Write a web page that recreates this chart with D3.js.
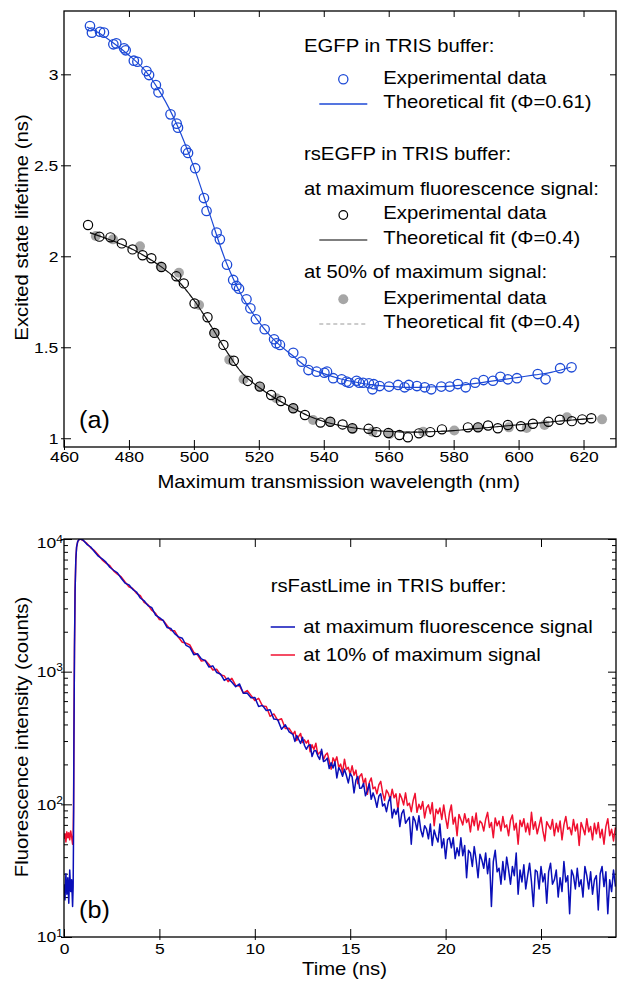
<!DOCTYPE html>
<html><head><meta charset="utf-8">
<script src="https://cdn.jsdelivr.net/npm/d3@7"></script>
<style>
body{margin:0;background:#fff}
svg{display:block}
text{font-family:"Liberation Sans",Arial,Helvetica,sans-serif;fill:#000}
</style></head>
<body><svg id="c" width="618" height="982"></svg>
<script>
// ---------- Panel (a) data ----------
const wavelengthTicks = [460,480,500,520,540,560,580,600,620];
const lifetimeTicks = [1,1.5,2,2.5,3];

const egfpWavelength = [468.0,468.6,471.1,472.3,475.2,476.1,478.5,479.0,481.5,482.6,485.4,486.2,488.3,489.1,492.8,494.7,495.1,497.5,498.2,500.4,503.1,503.9,507.0,508.0,510.2,512.1,513.1,513.9,516.2,517.4,519.1,521.8,524.7,525.4,526.5,530.6,533.2,535.3,537.8,540.2,541.0,542.9,545.5,547.0,547.8,550.1,550.9,552.1,553.9,555.0,555.4,557.2,560.1,562.9,564.9,566.2,568.7,571.1,573.1,576.2,578.8,581.3,583.7,586.6,589.2,592.1,594.4,596.7,599.5,605.9,608.3,612.8,616.3];
const egfpLifetime = [3.265,3.229,3.234,3.229,3.165,3.170,3.143,3.132,3.075,3.069,3.018,2.996,2.941,2.901,2.780,2.729,2.707,2.586,2.568,2.484,2.320,2.249,2.130,2.093,1.954,1.870,1.837,1.822,1.764,1.714,1.654,1.599,1.544,1.522,1.513,1.470,1.421,1.375,1.366,1.360,1.366,1.330,1.324,1.311,1.305,1.316,1.305,1.305,1.302,1.269,1.297,1.287,1.284,1.293,1.280,1.293,1.287,1.280,1.269,1.284,1.284,1.298,1.280,1.305,1.320,1.316,1.338,1.324,1.330,1.353,1.324,1.385,1.390];

const egfpFitWavelength = [467,470,475,480,485,490,495,500,505,510,515,520,525,530,535,540,545,550,555,560,565,570,575,580,585,590,595,600,605,610,616];
const egfpFitLifetime = [3.26,3.235,3.175,3.105,3.02,2.89,2.715,2.49,2.225,1.965,1.775,1.64,1.535,1.46,1.39,1.355,1.327,1.308,1.294,1.285,1.28,1.28,1.283,1.288,1.297,1.31,1.322,1.335,1.348,1.362,1.39];

const rsMaxWavelength = [467.4,470.9,474.3,477.8,481.1,484.2,486.9,490.0,494.6,496.9,500.2,504.2,506.3,509.1,512.3,516.6,520.3,523.8,526.8,530.6,534.2,539.0,542.0,545.8,548.8,553.8,556.2,559.9,563.3,565.9,569.3,572.8,576.4,584.4,587.5,590.6,593.6,596.7,600.7,604.4,609.2,612.7,616.4,619.6,622.4];
const rsMaxLifetime = [2.172,2.108,2.104,2.071,2.038,2.006,1.989,1.941,1.890,1.851,1.741,1.665,1.579,1.513,1.426,1.315,1.284,1.238,1.205,1.165,1.128,1.086,1.091,1.076,1.055,1.052,1.034,1.029,1.018,1.005,1.027,1.034,1.049,1.060,1.060,1.070,1.055,1.073,1.066,1.080,1.091,1.102,1.094,1.104,1.110];

const rsHalfWavelength = [469.8,475.1,483.4,489.8,495.4,501.6,506.4,510.9,515.3,520.2,525.4,530.6,536.7,541.8,548.9,555.0,560.3,570.6,580.2,587.5,597.0,602.5,608.0,614.9,625.7];
const rsHalfLifetime = [2.112,2.093,2.055,1.944,1.910,1.732,1.579,1.432,1.324,1.284,1.220,1.165,1.100,1.091,1.051,1.036,1.024,1.036,1.043,1.060,1.060,1.057,1.073,1.115,1.104];

const rsFitWavelength = [468,472,476,480,485,490,495,500,505,510,515,520,525,530,535,540,545,550,555,560,565,570,575,580,585,590,595,600,605,610,615,620,623];
const rsMaxFitLifetime = [2.13,2.105,2.078,2.048,2.0,1.942,1.868,1.76,1.625,1.48,1.355,1.28,1.22,1.17,1.125,1.092,1.07,1.055,1.044,1.037,1.034,1.034,1.037,1.042,1.05,1.058,1.066,1.074,1.082,1.09,1.098,1.105,1.11];
const rsHalfFitLifetime = [2.128,2.104,2.077,2.046,1.998,1.94,1.866,1.758,1.624,1.479,1.356,1.281,1.221,1.171,1.126,1.093,1.071,1.056,1.045,1.038,1.035,1.035,1.038,1.043,1.051,1.059,1.067,1.075,1.083,1.091,1.099,1.106,1.111];

// ---------- Panel (b) data ----------
const timeTicks = [0,5,10,15,20,25];
const countDecades = [10,100,1000,10000];

const decayMax = [[0,25],[0.05,19],[0.1,30],[0.15,21],[0.2,28],[0.25,18],[0.3,32],[0.35,22],[0.4,27],[0.45,17],[0.48,24],[0.5,60],[0.52,300],[0.55,1500],[0.58,4000],[0.62,7000],[0.66,8700],[0.72,9600],[0.8,9950],[0.86,10000],[0.93,9900],
[1.0,9822],[1.2,9113],[1.4,8703],[1.6,8014],[1.8,7418],[2.0,7096],[2.2,6688],[2.4,6124],[2.6,5813],[2.8,5554],[3.0,5060],[3.2,4648],[3.4,4512],[3.6,4173],[3.8,3986],[4.0,3591],[4.2,3421],[4.4,3145],[4.6,3038],[4.8,2668],[5.0,2557],[5.2,2422],[5.4,2155],[5.6,2117],[5.8,1934],[6.0,1830],[6.2,1786],[6.4,1579],[6.6,1524],[6.8,1343],[7.0,1366],[7.2,1248],[7.4,1210],[7.6,1084],[7.8,1106],[8.0,986],[8.2,961],[8.4,860],[8.6,894],[8.8,831],[9.0,771],[9.2,808],[9.4,688],[9.6,690],[9.8,637],[10.0,640],[10.2,547],[10.4,557],[10.6,510],[10.8,517],[11.0,439],[11.2,435],[11.4,368],[11.6,398],[11.8,352],
[12.0,336],[12.1,298],[12.2,330],[12.3,308],[12.4,288],[12.5,320],[12.6,279],[12.7,260],[12.8,276],[12.9,282],[13.0,229],[13.1,252],[13.2,255],[13.3,232],[13.4,218],[13.5,260],[13.6,210],[13.7,214],[13.8,223],[13.9,186],[14.0,206],[14.1,188],[14.2,209],[14.3,158],[14.4,189],[14.5,179],[14.6,163],[14.7,184],[14.8,165],[14.9,145],[15.0,171],[15.1,161],[15.2,122],[15.3,152],[15.4,162],[15.5,132],[15.6,133],[15.7,144],[15.8,116],[15.9,127],[16.0,143],[16.1,109],[16.2,122],[16.3,110],[16.4,95],[16.5,115],[16.6,120],[16.7,97],[16.8,101],[16.9,88],[17.0,104],[17.1,114],[17.2,79],[17.3,92],[17.4,84],[17.5,94],[17.6,68],[17.7,85],[17.8,91],[17.9,72],[18.0,76],[18.1,80],[18.2,50],[18.3,81],[18.4,75],[18.5,64],[18.6,82],[18.7,64],[18.8,57],[18.9,69],[19.0,65],[19.1,55],[19.2,71],[19.3,49],[19.4,64],[19.5,57],[19.6,52],[19.7,71],[19.8,47],[19.9,55],[20.0,39],[20.1,54],[20.2,56],[20.3,47],[20.4,56],[20.5,39],[20.6,47],[20.7,41],[20.8,56],[20.9,41],[21.0,49],[21.1,28],[21.2,45],[21.3,43],[21.4,34],[21.5,48],[21.6,38],[21.7,28],[21.8,42],[21.9,38],[22.0,33],[22.1,43],[22.2,30],[22.3,39],[22.4,17],[22.5,37],[22.6,45],[22.7,31],[22.8,33],[22.9,25],[23.0,37],[23.1,27],[23.2,40],[23.3,32],[23.4,25],[23.5,34],[23.6,29],[23.7,43],[23.8,21],[23.9,32],[24.0,26],[24.1,35],[24.2,23],[24.3,29],[24.4,36],[24.5,26],[24.6,17],[24.7,32],[24.8,31],[24.9,23],[25.0,34],[25.1,26],[25.2,30],[25.3,18],[25.4,31],[25.5,36],[25.6,25],[25.7,27],[25.8,32],[25.9,20],[26.0,28],[26.1,22],[26.2,37],[26.3,26],[26.4,29],[26.5,15],[26.6,32],[26.7,29],[26.8,23],[26.9,33],[27.0,24],[27.1,27],[27.2,20],[27.3,34],[27.4,29],[27.5,23],[27.6,31],[27.7,21],[27.8,27],[27.9,29],[28.0,16],[28.1,30],[28.2,34],[28.3,24],[28.4,31],[28.5,15],[28.6,27],[28.7,22],[28.8,32],[28.9,24]];

const decayTenPct = [[0,55],[0.05,60],[0.1,52],[0.15,62],[0.2,56],[0.25,61],[0.3,54],[0.35,63],[0.4,57],[0.45,50],[0.48,58],[0.5,90],[0.52,330],[0.55,1550],[0.58,4050],[0.62,7050],[0.66,8700],[0.72,9580],[0.8,9930],[0.86,9980],[0.93,9880],
[1.0,9746],[1.2,9260],[1.4,8571],[1.6,8173],[1.8,7570],[2.0,6958],[2.2,6581],[2.4,6298],[2.6,5755],[2.8,5441],[3.0,5179],[3.2,4740],[3.4,4366],[3.6,4237],[3.8,3896],[4.0,3749],[4.2,3331],[4.4,3194],[4.6,2906],[4.8,2748],[5.0,2474],[5.2,2438],[5.4,2228],[5.6,2047],[5.8,2032],[6.0,1816],[6.2,1666],[6.4,1641],[6.6,1588],[6.8,1397],[7.0,1338],[7.2,1201],[7.4,1221],[7.6,1132],[7.8,1030],[8.0,1042],[8.2,949],[8.4,930],[8.6,841],[8.8,890],[9.0,786],[9.2,780],[9.4,690],[9.6,721],[9.8,663],[10.0,606],[10.2,630],[10.4,552],[10.6,547],[10.8,461],[11.0,480],[11.2,430],[11.4,442],[11.6,373],[11.8,374],
[12.0,337],[12.1,355],[12.2,303],[12.3,325],[12.4,342],[12.5,292],[12.6,306],[12.7,289],[12.8,304],[12.9,249],[13.0,281],[13.1,259],[13.2,289],[13.3,237],[13.4,246],[13.5,252],[13.6,217],[13.7,235],[13.8,244],[13.9,212],[14.0,184],[14.1,224],[14.2,209],[14.3,228],[14.4,190],[14.5,201],[14.6,174],[14.7,219],[14.8,183],[14.9,190],[15.0,168],[15.1,195],[15.2,166],[15.3,181],[15.4,143],[15.5,163],[15.6,170],[15.7,143],[15.8,157],[15.9,119],[16.0,146],[16.1,158],[16.2,131],[16.3,135],[16.4,120],[16.5,140],[16.6,149],[16.7,122],[16.8,107],[16.9,128],[17.0,121],[17.1,108],[17.2,130],[17.3,112],[17.4,120],[17.5,91],[17.6,120],[17.7,111],[17.8,99],[17.9,122],[18.0,98],[18.1,102],[18.2,88],[18.3,107],[18.4,121],[18.5,87],[18.6,100],[18.7,92],[18.8,105],[18.9,79],[19.0,94],[19.1,99],[19.2,85],[19.3,103],[19.4,69],[19.5,92],[19.6,85],[19.7,94],[19.8,77],[19.9,99],[20.0,79],[20.1,66],[20.2,86],[20.3,99],[20.4,71],[20.5,80],[20.6,58],[20.7,84],[20.8,77],[20.9,70],[21.0,85],[21.1,73],[21.2,78],[21.3,62],[21.4,81],[21.5,69],[21.6,86],[21.7,64],[21.8,75],[21.9,72],[22.0,63],[22.1,77],[22.2,87],[22.3,67],[22.4,73],[22.5,56],[22.6,79],[22.7,69],[22.8,75],[22.9,63],[23.0,81],[23.1,67],[23.2,70],[23.3,58],[23.4,76],[23.5,83],[23.6,64],[23.7,72],[23.8,50],[23.9,76],[24.0,68],[24.1,78],[24.2,62],[24.3,72],[24.4,59],[24.5,87],[24.6,65],[24.7,74],[24.8,60],[24.9,69],[25.0,80],[25.1,63],[25.2,53],[25.3,74],[25.4,69],[25.5,65],[25.6,77],[25.7,58],[25.8,72],[25.9,62],[26.0,75],[26.1,54],[26.2,70],[26.3,81],[26.4,65],[26.5,67],[26.6,59],[26.7,77],[26.8,63],[26.9,71],[27.0,49],[27.1,73],[27.2,66],[27.3,59],[27.4,78],[27.5,62],[27.6,68],[27.7,54],[27.8,72],[27.9,60],[28.0,73],[28.1,56],[28.2,65],[28.3,50],[28.4,68],[28.5,78],[28.6,58],[28.7,65],[28.8,53],[28.9,67]];

// ---------- drawing ----------
const SX = 1.09;
const svg = d3.select("#c");
const BLUE_A = "#1c49d6", BLUE_B = "#0a0fb8", RED_B = "#f01030", GRAY = "#a6a6a6";

function txt(parent, x, y, s, size, o = {}) {
  const t = parent.append("text")
    .attr("transform", `translate(${x},${y})${o.rotate ? ` rotate(${o.rotate})` : ""} scale(${o.sx || SX},1)`)
    .style("font-size", size + "px").text(s);
  if (o.anchor) t.attr("text-anchor", o.anchor);
  return t;
}
function styleAxis(g, size) {
  g.select(".domain").remove();
  g.selectAll(".tick line").attr("stroke", "#000").attr("stroke-width", 1);
  g.selectAll(".tick text").style("font-size", size + "px")
    .style("font-family", '"Liberation Sans",Arial,sans-serif')
    .attr("transform", "scale(1.13,1)");
  return g;
}
const TF = 15.5;

// ===== Panel (a) =====
const xA = d3.scaleLinear().domain([460, 630]).range([64, 616]);
const yA = d3.scaleLinear().domain([0.952, 3.348]).range([447, 11]);
const gA = svg.append("g");
const [ax0, ax1] = xA.range(), [ay0, ay1] = yA.range();

gA.append("g").attr("transform", `translate(0,${ay0})`)
  .call(d3.axisBottom(xA).tickValues(wavelengthTicks).tickSizeInner(-7).tickSizeOuter(0).tickPadding(4))
  .call(g => styleAxis(g, TF));
gA.append("g").attr("transform", `translate(0,${ay0})`)
  .call(d3.axisBottom(xA).tickValues(wavelengthTicks).tickSize(3).tickFormat(""))
  .call(g => styleAxis(g, TF));
gA.append("g").attr("transform", `translate(0,${ay1})`)
  .call(d3.axisTop(xA).tickValues(wavelengthTicks.slice(1)).tickSizeInner(-6).tickSizeOuter(0).tickFormat(""))
  .call(g => styleAxis(g, TF));
gA.append("g").attr("transform", `translate(${ax0},0)`)
  .call(d3.axisLeft(yA).tickValues(lifetimeTicks).tickSizeInner(-7).tickSizeOuter(0).tickPadding(5).tickFormat(d => String(d)))
  .call(g => styleAxis(g, TF));
gA.append("g").attr("transform", `translate(${ax0},0)`)
  .call(d3.axisLeft(yA).tickValues(lifetimeTicks).tickSize(3).tickFormat(""))
  .call(g => styleAxis(g, TF));
gA.append("g").attr("transform", `translate(${ax1},0)`)
  .call(d3.axisRight(yA).tickValues(lifetimeTicks).tickSizeInner(-6).tickSizeOuter(0).tickFormat(""))
  .call(g => styleAxis(g, TF));
gA.append("rect").attr("x", ax0).attr("y", ay1).attr("width", ax1 - ax0).attr("height", ay0 - ay1)
  .attr("fill", "none").attr("stroke", "#000").attr("stroke-width", 1.3);

const lineA = d3.line().x(d => xA(d[0])).y(d => yA(d[1])).curve(d3.curveCatmullRom);

gA.selectAll("circle.half").data(d3.zip(rsHalfWavelength, rsHalfLifetime)).join("circle")
  .attr("cx", d => xA(d[0])).attr("cy", d => yA(d[1])).attr("r", 5).attr("fill", GRAY);
gA.append("path").attr("d", lineA(d3.zip(rsFitWavelength, rsHalfFitLifetime)))
  .attr("fill", "none").attr("stroke", "#8e8e8e").attr("stroke-width", 1.2).attr("stroke-dasharray", "4,3");
gA.append("path").attr("d", lineA(d3.zip(rsFitWavelength, rsMaxFitLifetime)))
  .attr("fill", "none").attr("stroke", "#111").attr("stroke-width", 1.1);
gA.selectAll("circle.max").data(d3.zip(rsMaxWavelength, rsMaxLifetime)).join("circle")
  .attr("cx", d => xA(d[0])).attr("cy", d => yA(d[1])).attr("r", 4.6)
  .attr("fill", "none").attr("stroke", "#000").attr("stroke-width", 1.2);
gA.append("path").attr("d", lineA(d3.zip(egfpFitWavelength, egfpFitLifetime)))
  .attr("fill", "none").attr("stroke", BLUE_A).attr("stroke-width", 1.2);
gA.selectAll("circle.egfp").data(d3.zip(egfpWavelength, egfpLifetime)).join("circle")
  .attr("cx", d => xA(d[0])).attr("cy", d => yA(d[1])).attr("r", 4.7)
  .attr("fill", "none").attr("stroke", BLUE_A).attr("stroke-width", 1.3);

// titles
txt(gA, 338.7, 488, "Maximum transmission wavelength (nm)", 18.6, {anchor: "middle"});
txt(gA, 28.3, 227.5, "Excited state lifetime (ns)", 18.6, {anchor: "middle", rotate: -90});
txt(gA, 79, 428, "(a)", 24, {sx: 1.05});

// legend (a)
const LF = 18.6;
txt(gA, 304, 51.7, "EGFP in TRIS buffer:", LF);
gA.append("circle").attr("cx", 343.3).attr("cy", 79.3).attr("r", 4.6).attr("fill", "none").attr("stroke", BLUE_A).attr("stroke-width", 1.3);
txt(gA, 383.3, 84, "Experimental data", LF);
gA.append("line").attr("x1", 319.3).attr("x2", 367.3).attr("y1", 104).attr("y2", 104).attr("stroke", BLUE_A).attr("stroke-width", 1.3);
txt(gA, 383.3, 108.3, "Theoretical fit (Φ=0.61)", LF);
txt(gA, 304, 160, "rsEGFP in TRIS buffer:", LF);
txt(gA, 304, 195, "at maximum fluorescence signal:", LF);
gA.append("circle").attr("cx", 343.3).attr("cy", 215).attr("r", 4.3).attr("fill", "none").attr("stroke", "#000").attr("stroke-width", 1.2);
txt(gA, 383.3, 219.3, "Experimental data", LF);
gA.append("line").attr("x1", 319.3).attr("x2", 367.3).attr("y1", 240).attr("y2", 240).attr("stroke", "#000").attr("stroke-width", 1.2);
txt(gA, 383.3, 244.3, "Theoretical fit (Φ=0.4)", LF);
txt(gA, 304, 278.3, "at 50% of maximum signal:", LF);
gA.append("circle").attr("cx", 343.3).attr("cy", 299.3).attr("r", 5).attr("fill", GRAY);
txt(gA, 383.3, 304.3, "Experimental data", LF);
gA.append("line").attr("x1", 319.3).attr("x2", 367.3).attr("y1", 324).attr("y2", 324).attr("stroke", "#9a9a9a").attr("stroke-width", 1.2).attr("stroke-dasharray", "4,3");
txt(gA, 383.3, 328.3, "Theoretical fit (Φ=0.4)", LF);

// ===== Panel (b) =====
const xB = d3.scaleLinear().domain([0, 28.93]).range([64, 616]);
const yB = d3.scaleLog().domain([10, 10000]).range([937, 539]);
const gB = svg.append("g");
const [bx0, bx1] = xB.range(), [by0, by1] = yB.range();
const minorCounts = [];
countDecades.slice(0, 3).forEach(p => { for (let k = 2; k <= 9; k++) minorCounts.push(p * k); });

gB.append("g").attr("transform", `translate(0,${by0})`)
  .call(d3.axisBottom(xB).tickValues(timeTicks).tickSizeInner(-8).tickSizeOuter(0).tickPadding(6))
  .call(g => styleAxis(g, TF));
gB.append("g").attr("transform", `translate(0,${by0})`)
  .call(d3.axisBottom(xB).tickValues(timeTicks.slice(1)).tickSize(3).tickFormat(""))
  .call(g => styleAxis(g, TF));
gB.append("g").attr("transform", `translate(0,${by1})`)
  .call(d3.axisTop(xB).tickValues(timeTicks.slice(1)).tickSizeInner(-8).tickSizeOuter(0).tickFormat(""))
  .call(g => styleAxis(g, TF));
const leftB = gB.append("g").attr("transform", `translate(${bx0},0)`)
  .call(d3.axisLeft(yB).tickValues(countDecades).tickSizeInner(-8).tickSizeOuter(0).tickPadding(1))
  .call(g => styleAxis(g, TF));
leftB.selectAll(".tick text").each(function(d) {
  const t = d3.select(this);
  t.text(null);
  t.append("tspan").text("10");
  t.append("tspan").attr("dy", "-0.55em").style("font-size", "10.5px").text(Math.round(Math.log10(d)));
  if (d === 10000) t.attr("y", 4);
});
gB.append("g").attr("transform", `translate(${bx0},0)`)
  .call(d3.axisLeft(yB).tickValues(countDecades).tickSize(3).tickFormat(""))
  .call(g => styleAxis(g, TF));
gB.append("g").attr("transform", `translate(${bx0},0)`)
  .call(d3.axisLeft(yB).tickValues(minorCounts).tickSizeInner(-4).tickSizeOuter(0).tickFormat(""))
  .call(g => styleAxis(g, TF));
gB.append("g").attr("transform", `translate(${bx1},0)`)
  .call(d3.axisRight(yB).tickValues(countDecades).tickSizeInner(-8).tickSizeOuter(0).tickFormat(""))
  .call(g => styleAxis(g, TF));
gB.append("g").attr("transform", `translate(${bx1},0)`)
  .call(d3.axisRight(yB).tickValues(minorCounts).tickSizeInner(-4).tickSizeOuter(0).tickFormat(""))
  .call(g => styleAxis(g, TF));

svg.append("clipPath").attr("id", "clipB").append("rect")
  .attr("x", bx0).attr("y", by1).attr("width", bx1 - bx0).attr("height", by0 - by1);
const lineB = d3.line().x(d => xB(d[0])).y(d => yB(d[1]));
const plotB = gB.append("g").attr("clip-path", "url(#clipB)");
plotB.append("path").attr("d", lineB(decayTenPct)).attr("fill", "none").attr("stroke", RED_B).attr("stroke-width", 1.5).attr("stroke-linejoin", "round");
plotB.append("path").attr("d", lineB(decayMax)).attr("fill", "none").attr("stroke", BLUE_B).attr("stroke-width", 1.5).attr("stroke-linejoin", "round");

gB.append("rect").attr("x", bx0).attr("y", by1).attr("width", bx1 - bx0).attr("height", by0 - by1)
  .attr("fill", "none").attr("stroke", "#000").attr("stroke-width", 1.3);

txt(gB, 344.5, 975, "Time (ns)", 18.6, {anchor: "middle"});
txt(gB, 28.3, 737, "Fluorescence intensity (counts)", 18.6, {anchor: "middle", rotate: -90});
txt(gB, 79, 918, "(b)", 24, {sx: 1.05});

txt(gB, 270.7, 592, "rsFastLime in TRIS buffer:", LF);
gB.append("line").attr("x1", 270.7).attr("x2", 295).attr("y1", 627).attr("y2", 627).attr("stroke", BLUE_B).attr("stroke-width", 1.5);
txt(gB, 303.3, 633, "at maximum fluorescence signal", LF);
gB.append("line").attr("x1", 270.7).attr("x2", 295).attr("y1", 655).attr("y2", 655).attr("stroke", RED_B).attr("stroke-width", 1.5);
txt(gB, 303.3, 661, "at 10% of maximum signal", LF);
</script></body></html>
